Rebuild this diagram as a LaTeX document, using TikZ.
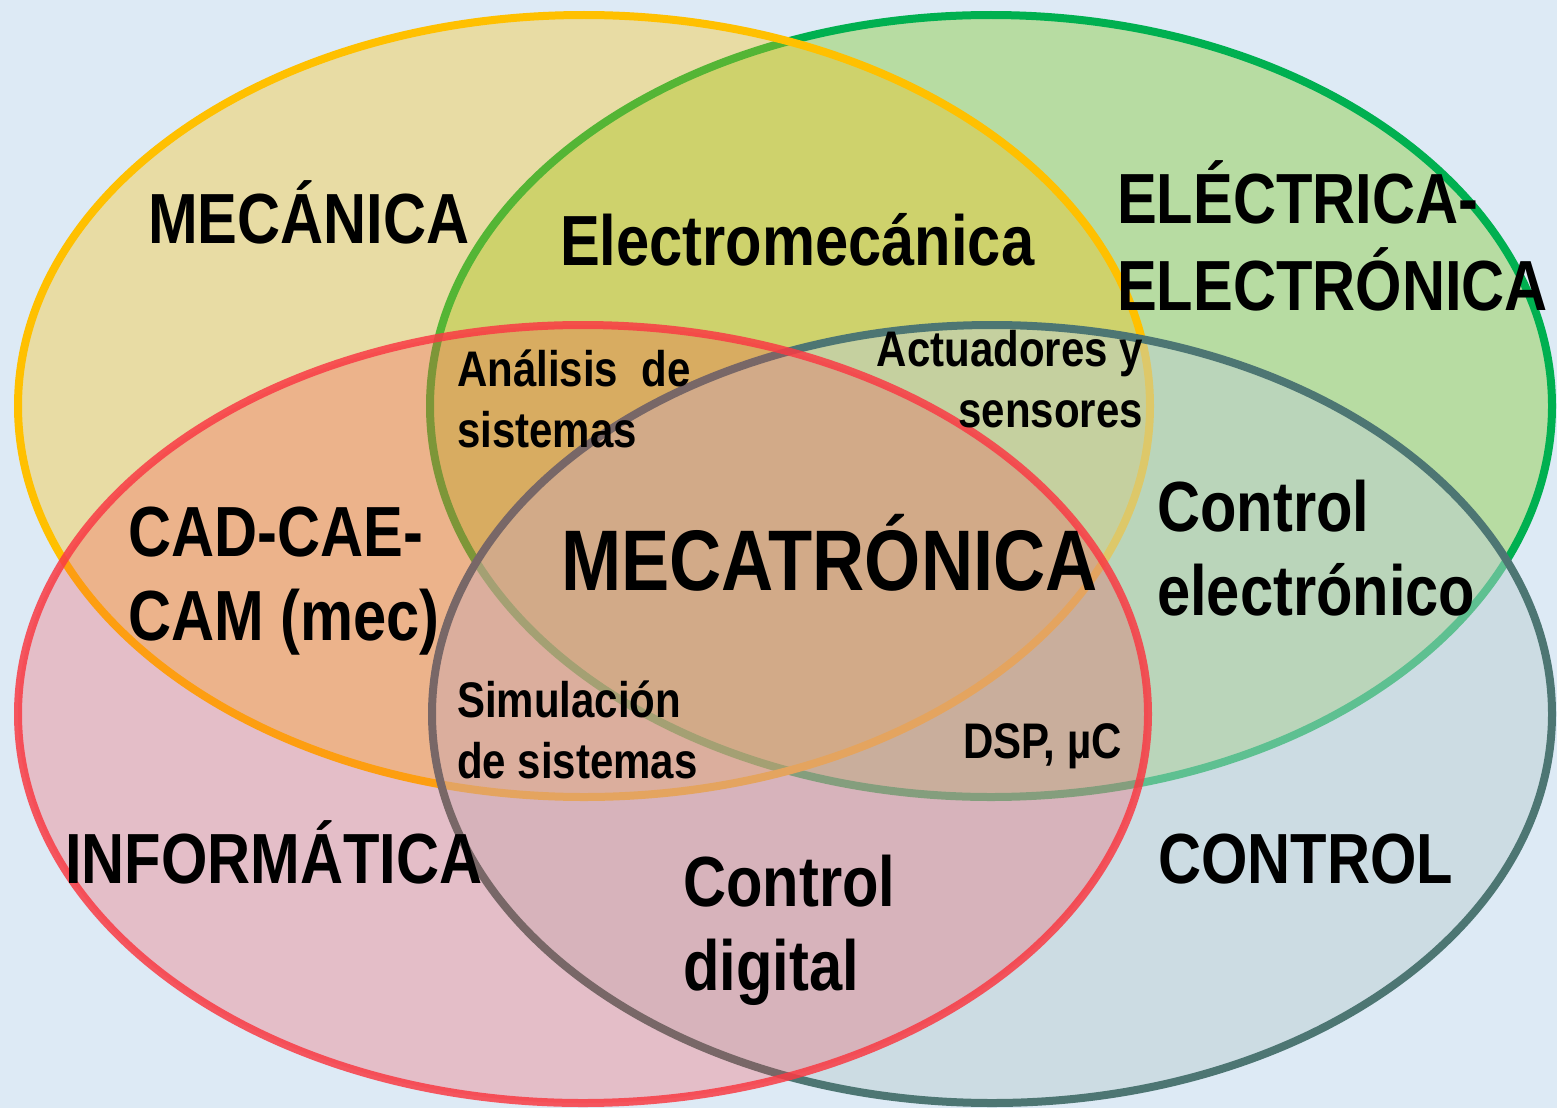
\documentclass[tikz,border=0pt]{standalone}
\usepackage{fontspec}
\newfontfamily\vennfont{Liberation Sans}[FakeStretch=0.84]
\definecolor{bgblue}{HTML}{DDEAF5}
\definecolor{mecline}{HTML}{FFC000}
\definecolor{elecline}{HTML}{00B050}
\definecolor{elecfill}{HTML}{92D050}
\definecolor{infline}{HTML}{F93B44}
\definecolor{ctrlline}{HTML}{4D7673}
\definecolor{ctrlfill}{HTML}{BDD0D3}
\tikzset{
  field/.style={line width=8pt},
  bigtext/.style={font=\vennfont\bfseries\fontsize{71}{84}\selectfont, inner sep=0pt, align=left},
  smalltext/.style={font=\vennfont\bfseries\fontsize{50}{61}\selectfont, inner sep=0pt, align=left}
}

\begin{document}
\begin{tikzpicture}[x=1pt,y=-1pt]
        \fill [bgblue] (0,0) rectangle (1557,1108);
        \useasboundingbox (0,0) rectangle (1557,1108);

        % the four fields
        \draw [field, draw=elecline, fill=elecfill, fill opacity=.5]
            (991,406) ellipse [x radius=561pt, y radius=391pt];
        \draw [field, draw=mecline, fill=mecline, fill opacity=.33]
            (584,406) ellipse [x radius=566pt, y radius=391pt];
        \draw [field, draw=ctrlline, fill=ctrlfill, fill opacity=.5]
            (992,714) ellipse [x radius=560pt, y radius=389pt];
        \draw [field, draw=infline, draw opacity=.85, fill=infline, fill opacity=.25]
            (583,714) ellipse [x radius=565pt, y radius=389pt];

        % labels (base = last line)
        \node (mecanica) [bigtext, anchor=base west] at (148,243) {MECÁNICA};
        \node (electrica) [bigtext, anchor=base west, font=\vennfont\bfseries\fontsize{71}{87}\selectfont]
            at (1117,310) {ELÉCTRICA-\\ELECTRÓNICA};
        \node (informatica) [bigtext, anchor=base west] at (65,883) {INFORMÁTICA};
        \node (control) [bigtext, anchor=base west] at (1158,883) {CONTROL};

        \node (electromec) [bigtext, anchor=base west] at (560,265) {Electromecánica};
        \node (cad) [bigtext, anchor=base west] at (128,640) {CAD-CAE-\\CAM (mec)};
        \node (controlelec) [bigtext, anchor=base west] at (1157,615) {Control\\electrónico};
        \node (controldig) [bigtext, anchor=base west] at (683,990) {Control\\digital};

        \node (analisis) [smalltext, anchor=base west] at (457,447) {Análisis~~de\\sistemas};
        \node (actuadores) [smalltext, anchor=base east, align=right] at (1143,427) {Actuadores y\\sensores};
        \node (simulacion) [smalltext, anchor=base west] at (457,778) {Simulación\\de sistemas};
        \node (dsp) [smalltext, anchor=base east] at (1122,758) {DSP, µC};

        \node (mecatronica) [font=\vennfont\bfseries\fontsize{86}{100}\selectfont, inner sep=0pt,
            anchor=base west] at (561,590) {MECATRÓNICA};
\end{tikzpicture}
\end{document}
